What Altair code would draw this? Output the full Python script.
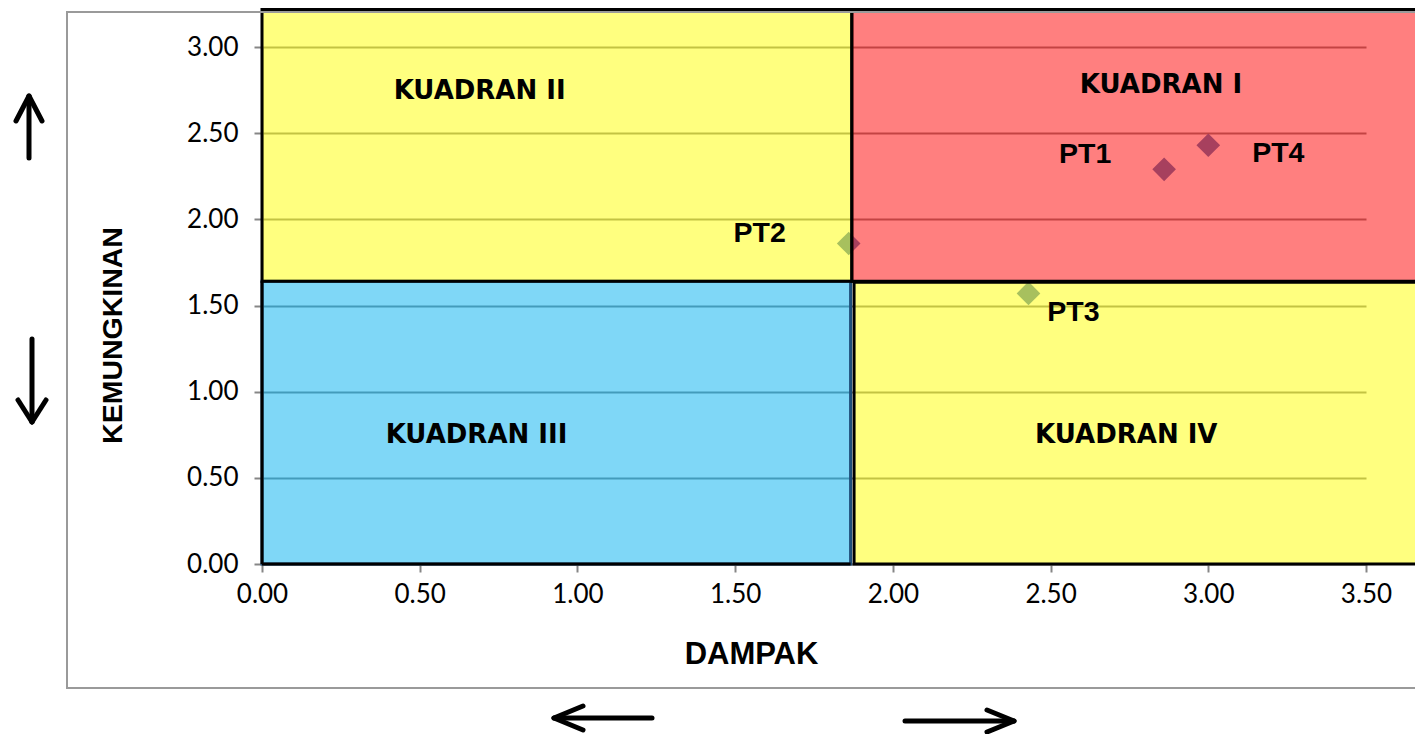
import altair as alt
import pandas as pd

# ---------------- data ----------------
point_names = ["PT1", "PT2", "PT3", "PT4"]
dampak = [2.86, 1.86, 2.43, 3.00]
kemungkinan = [2.29, 1.86, 1.57, 2.43]

quad_names = ["KUADRAN III", "KUADRAN IV", "KUADRAN II", "KUADRAN I"]
quad_x1 = [0.0, 1.877, 0.0, 1.870]
quad_x2 = [1.866, 3.70, 1.870, 3.70]
quad_y1 = [0.0, 0.0, 1.640, 1.640]
quad_y2 = [1.640, 1.635, 3.218, 3.218]
quad_colors = ["#00B0F0", "#FFFF00", "#FFFF00", "#FF0000"]
quad_strokes = ["#1F4E79", "black", "black", "black"]
quad_label_x = [0.68, 2.74, 0.69, 2.85]
quad_label_y = [0.75, 0.75, 2.745, 2.78]

x_ticks = [0.0, 0.5, 1.0, 1.5, 2.0, 2.5, 3.0, 3.5]
y_ticks = [0.0, 0.5, 1.0, 1.5, 2.0, 2.5, 3.0]

pts = pd.DataFrame({"name": point_names, "dampak": dampak, "kemungkinan": kemungkinan})
quads = pd.DataFrame({"name": quad_names, "x1": quad_x1, "x2": quad_x2,
                      "y1": quad_y1, "y2": quad_y2, "color": quad_colors,
                      "edge": quad_strokes,
                      "lx": quad_label_x, "ly": quad_label_y})
one = pd.DataFrame({"a": [0]})

# ---------------- styling ----------------
GRAY = "#868686"
TICK_FONT = "Lato"
BOLD_FONT = "Liberation Sans"

xs = alt.Scale(domain=[0, 3.5], nice=False, zero=False)
ys = alt.Scale(domain=[0, 3.0], nice=False, zero=False)

xaxis = alt.Axis(values=x_ticks, format=".2f", grid=False, labelFlush=False, labelOverlap=False,
                 domainColor=GRAY, domainWidth=2, tickColor=GRAY, tickWidth=2, tickSize=8,
                 labelFont=TICK_FONT, labelFontSize=26, labelColor="black", labelPadding=9,
                 title="DAMPAK", titleFont=BOLD_FONT, titleFontWeight="bold", titleFontSize=31,
                 titleColor="black", titleX=489, titleY=90, titleBaseline="middle", titleAlign="center")
yaxis = alt.Axis(values=y_ticks, format=".2f", grid=True, gridColor=GRAY, gridWidth=2,
                 labelOverlap=False, labelFlush=False,
                 domainColor=GRAY, domainWidth=2, tickColor=GRAY, tickWidth=2, tickSize=8,
                 labelFont=TICK_FONT, labelFontSize=26, labelColor="black", labelPadding=16,
                 title="KEMUNGKINAN", titleFont=BOLD_FONT, titleFontWeight="bold", titleFontSize=28.5,
                 titleColor="black", titleX=-150, titleY=288, titleAngle=270,
                 titleBaseline="middle", titleAlign="center")

# points (drawn under the translucent quadrant overlays)
points = alt.Chart(pts).mark_point(shape="diamond", filled=True, size=560, color="#4F81BD",
                                   opacity=1).encode(
    x=alt.X("dampak:Q", scale=xs, axis=xaxis),
    y=alt.Y("kemungkinan:Q", scale=ys, axis=yaxis),
)

rects = alt.Chart(quads).mark_rect(fillOpacity=0.5, strokeWidth=3).encode(
    x=alt.X("x1:Q", scale=xs, axis=xaxis), x2="x2:Q",
    y=alt.Y("y1:Q", scale=ys, axis=yaxis), y2="y2:Q",
    fill=alt.Fill("color:N", scale=None),
    stroke=alt.Stroke("edge:N", scale=None),
)

# black outline on the outer sides of quadrant III
q3_edge = alt.Chart(quads).transform_filter(alt.datum.name == "KUADRAN III").mark_rect(
    fillOpacity=0, stroke="black", strokeWidth=3).encode(
    x=alt.X("x1:Q", scale=xs, axis=xaxis), x2=alt.X2("x1:Q"),
    y=alt.Y("y1:Q", scale=ys, axis=yaxis), y2="y2:Q",
)
q3_bottom = alt.Chart(quads).transform_filter(alt.datum.name == "KUADRAN III").mark_rule(
    color="black", strokeWidth=3).encode(
    x=alt.X("x1:Q", scale=xs, axis=xaxis), x2="x2:Q",
    y=alt.Y("y1:Q", scale=ys, axis=yaxis),
)

quad_text = alt.Chart(quads).mark_text(font="DejaVu Sans", fontWeight="bold", fontSize=26,
                                       color="black", baseline="middle", align="center").encode(
    x=alt.X("lx:Q", scale=xs, axis=xaxis),
    y=alt.Y("ly:Q", scale=ys, axis=yaxis),
    text="name:N",
)

label_offsets = {"PT1": (-79, -15), "PT2": (-89, -10), "PT3": (45, 19), "PT4": (70, 8)}
label_layers = []
for nm, (ddx, ddy) in label_offsets.items():
    label_layers.append(
        alt.Chart(pts).transform_filter(alt.datum.name == nm).mark_text(
            font=BOLD_FONT, fontWeight="bold", fontSize=28.5, color="black",
            baseline="middle", align="center", dx=ddx, dy=ddy).encode(
            x=alt.X("dampak:Q", scale=xs, axis=xaxis),
            y=alt.Y("kemungkinan:Q", scale=ys, axis=yaxis),
            text="name:N",
        )
    )

# outer chart-area border
border = alt.Chart(one).mark_rect(fillOpacity=0, stroke="#9A9A9A", strokeWidth=2).encode(
    x=alt.value(-195), x2=alt.value(1300), y=alt.value(-35), y2=alt.value(641),
)

# direction arrows (decorations outside the plot area), pixel offsets from plot origin
OX, OY = 262, 47
arrow_segments = [
    # up arrow
    (29, 158, 29, 97), (29, 96, 16, 121), (29, 96, 42, 121),
    # down arrow
    (32, 339, 32, 421), (32, 422, 18, 400), (32, 422, 46, 400),
    # left arrow
    (652, 718, 555, 718), (554, 718, 583, 706), (554, 718, 583, 730),
    # right arrow
    (905, 721, 1013, 721), (1014, 721, 987, 710), (1014, 721, 987, 732),
]
arrows = []
for (ax1, ay1, ax2, ay2) in arrow_segments:
    arrows.append(
        alt.Chart(one).mark_rule(color="black", strokeWidth=5, strokeCap="round").encode(
            x=alt.value(ax1 - OX), y=alt.value(ay1 - OY),
            x2=alt.value(ax2 - OX), y2=alt.value(ay2 - OY),
        )
    )

chart = alt.layer(points, rects, q3_edge, q3_bottom, quad_text, *label_layers, border,
                  *arrows).properties(
    width=1104, height=517,
    padding={"left": 254, "top": 39, "right": 49, "bottom": 170},
    autosize=alt.AutoSizeParams(type="none"),
    background="white",
).configure_view(stroke=None)

chart.save("out.html", embed_options={"renderer": "svg", "actions": False})
